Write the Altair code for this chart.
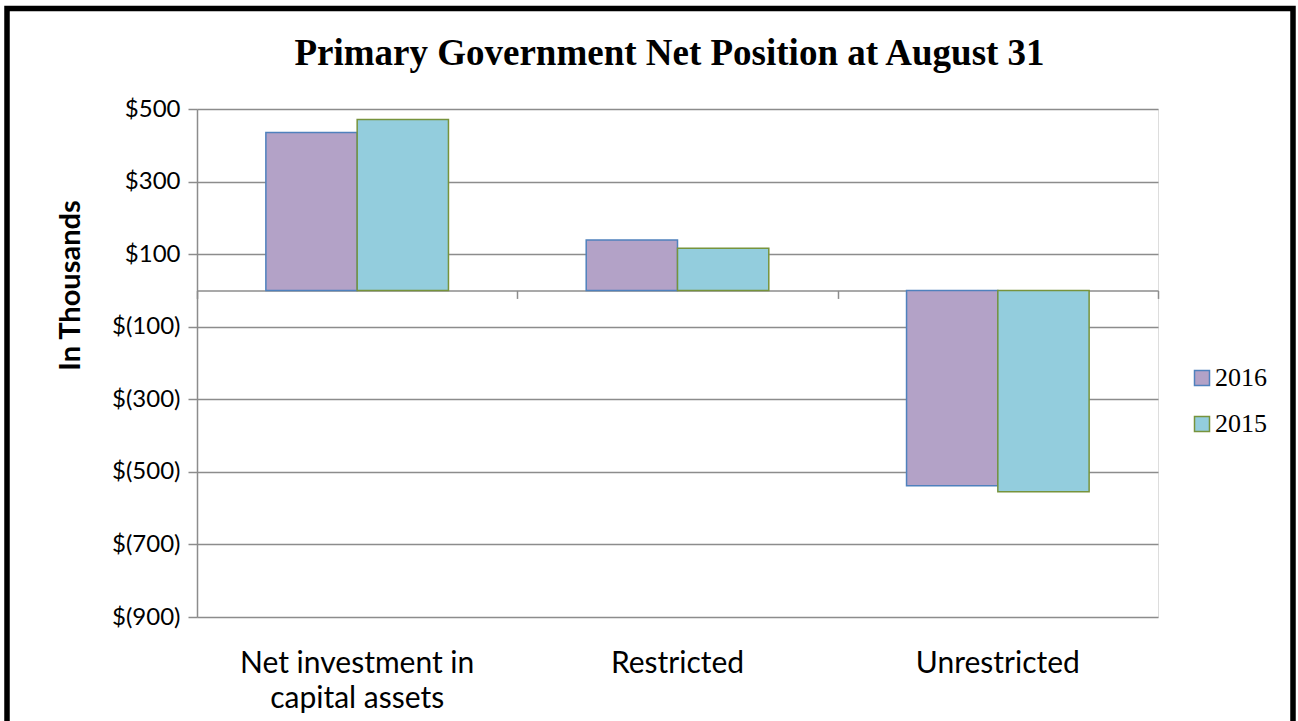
import altair as alt
import pandas as pd

categories = ["Net investment in capital assets", "Restricted", "Unrestricted"]
years = ["2016", "2015"]
values_2016 = [435, 139, -538]
values_2015 = [471, 116, -555]
y_ticks = [500, 300, 100, -100, -300, -500, -700, -900]

fills = ["#B3A2C7", "#93CDDD"]
strokes = ["#4F81BD", "#77933C"]

rows = []
for c, a, b in zip(categories, values_2016, values_2015):
    rows.append({"category": c, "year": "2016", "value": a})
    rows.append({"category": c, "year": "2015", "value": b})
df = pd.DataFrame(rows)

W, H = 961, 508
GRID = "#8C8C8C"
SANS = "Lato"

legend = alt.Legend(title=None, orient="none", legendX=992, legendY=256,
                    labelFont="Liberation Serif", labelFontSize=26, labelColor="#000000",
                    symbolType="square", symbolSize=225, symbolStrokeWidth=1.5,
                    labelOffset=0, rowPadding=20, padding=0)

bars = alt.Chart(df).mark_bar(strokeWidth=1.5).encode(
    x=alt.X("category:N", sort=categories,
            scale=alt.Scale(domain=categories, paddingInner=0.43, paddingOuter=0.215),
            axis=alt.Axis(title=None, domain=False, ticks=False, labelAngle=0,
                          labelFont=SANS, labelFontSize=30, labelColor="#000000",
                          labelPadding=31, labelLineHeight=35, labelBaseline="top", labelLimit=500,
                          labelExpr="datum.label == 'Net investment in capital assets' ? ['Net investment in', 'capital assets'] : datum.label")),
    xOffset=alt.XOffset("year:N", sort=years, scale=alt.Scale(domain=years, paddingInner=0, paddingOuter=0)),
    y=alt.Y("value:Q", scale=alt.Scale(domain=[-900, 500], nice=False, zero=False),
            axis=alt.Axis(values=y_ticks, title="In Thousands", titleFont=SANS, titleFontSize=29,
                          titleFontWeight="bold", titleColor="#000000", titlePadding=26,
                          titleY=176,
                          labelFont=SANS, labelFontSize=24, labelColor="#000000", labelPadding=8,
                          labelExpr="datum.value < 0 ? '$(' + format(-datum.value, ',') + ')' : '$' + format(datum.value, ',')",
                          grid=True, gridColor=GRID, gridWidth=1.5,
                          domain=True, domainColor=GRID, domainWidth=1.5,
                          ticks=True, tickColor=GRID, tickWidth=1.5, tickSize=9)),
    fill=alt.Fill("year:N", sort=years, scale=alt.Scale(domain=years, range=fills), legend=legend),
    stroke=alt.Stroke("year:N", sort=years, scale=alt.Scale(domain=years, range=strokes), legend=legend),
)

zero_offset = -H * (0 - (-900)) / (500 - (-900))
zero_axis = alt.Chart(df).mark_rule(strokeOpacity=0).encode(
    x=alt.X("category:N", sort=categories,
            scale=alt.Scale(domain=categories, paddingInner=0, paddingOuter=0),
            axis=alt.Axis(title=None, orient="bottom", offset=zero_offset, labels=False,
                          ticks=True, tickBand="extent", tickSize=8, tickColor=GRID, tickWidth=1.5,
                          domain=True, domainColor=GRID, domainWidth=1.5, grid=False)),
)

frame = alt.Chart(pd.DataFrame({"k": [0]})).mark_rect(
    fillOpacity=0, stroke="#000000", strokeWidth=5.5
).encode(x=alt.value(-190), x2=alt.value(1096), y=alt.value(-100.5), y2=alt.value(640))

chart = alt.layer(bars, zero_axis, frame).resolve_scale(x="independent").resolve_axis(x="independent").properties(
    width=W, height=H,
    title=alt.TitleParams("Primary Government Net Position at August 31",
                          font="Liberation Serif", fontSize=37, fontWeight="bold",
                          color="#000000", anchor="middle", dx=-8, offset=0, dy=96,
                          baseline="alphabetic"),
    autosize=alt.AutoSizeParams(type="none"),
    padding={"left": 197, "top": 109, "right": 140, "bottom": 104},
).configure_view(stroke=None).configure(background="#FFFFFF")

chart.save("out.html", embed_options={"renderer": "svg", "actions": False})
